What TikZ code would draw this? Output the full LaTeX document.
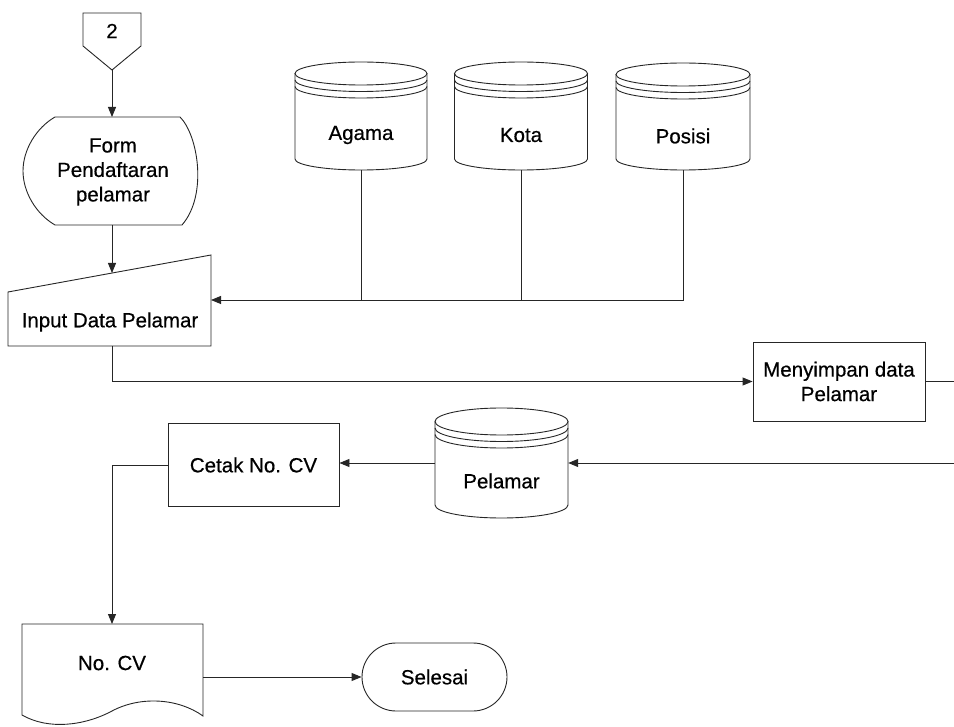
\documentclass[tikz,border=0pt]{standalone}
\usepackage{fontspec}
\setmainfont{Liberation Sans}
\newfontfamily\figfam{Liberation Sans}[FakeBold=0.5]
\usetikzlibrary{arrows.meta,shapes.misc}
\newcommand\figfont{\figfam\fontsize{20.5}{24.5}\selectfont}
% #1 name, #2 cx, #3 ytop, #4 ybot, #5 rx, #6 ry(top), #7 ry(bottom), #8 text
\newcommand\dbcyl[8]{%
  \node[inner sep=0pt, minimum width={2*#5 pt}, minimum height={(#4-#3)*1pt}] (#1) at (#2,{(#3+#4)/2}) {};
  \draw[shapeline] (#2-#5,#3+#6) -- (#2-#5,#4-#7) arc[start angle=180,end angle=0,x radius=#5,y radius=#7] -- (#2+#5,#3+#6);
  \draw[shapeline] (#2,#3+#6) ellipse[x radius=#5,y radius=#6];
  \draw[shapeline] (#2-#5,#3+#6+6.5) arc[start angle=180,end angle=0,x radius=#5,y radius=#6];
  \draw[shapeline] (#2-#5,#3+#6+13) arc[start angle=180,end angle=0,x radius=#5,y radius=#6];
  \node[txt] (#1-label) at (#2,#3+73) {#8};
}
\begin{document}
\begin{tikzpicture}[x=1pt,y=-1pt,
  shapeline/.style={draw=black!85, line width=0.9pt},
  txt/.style={font=\figfont, text=black, inner sep=1pt, align=center},
  conn/.style={draw=black!85, line width=0.9pt},
  arr/.style={conn, -{Triangle[length=10pt,width=8pt]}},
  procbox/.style={shapeline, rectangle, font=\figfont, align=center, inner sep=2pt},
  termbox/.style={shapeline, rounded rectangle, font=\figfont, inner sep=2pt}]
\useasboundingbox (0,0) rectangle (954,727);

% off-page connector
\draw[shapeline] (83,13) -- (141,13) -- (141,46) -- (112,70) -- (83,46) -- cycle;
\node[txt] (conn2) at (112,31) {2};
\coordinate (connTip) at (112,70);

% display: Form Pendaftaran pelamar
\draw[shapeline] (55,117) -- (180,117) .. controls (198,135) and (208,195) .. (182,225)
  -- (55,225) .. controls (36,214) and (23,192) .. (23,171) .. controls (23,150) and (36,128) .. (55,117);
\node[txt] (form) at (113,172) {Form\\Pendaftaran\\pelamar};
\coordinate (formTop) at (112,117);
\coordinate (formBot) at (112,225);

% manual input
\draw[shapeline] (8,292) -- (211,255) -- (211,346) -- (8,346) -- cycle;
\node[txt] (input) at (110,322) {Input Data Pelamar};
\coordinate (inTop) at (112,273);
\coordinate (inRight) at (211,300);
\coordinate (inBot) at (112,346);

% master data stores
\dbcyl{agama}{361}{62}{170}{66}{11.5}{11}{Agama}
\dbcyl{kota}{521}{62}{170}{66.5}{11.5}{11}{Kota}
\dbcyl{posisi}{683}{63}{170}{67}{11.5}{11}{Posisi}

% process
\node[procbox, minimum width=172pt, minimum height=79pt] (simpan) at (839,381.5) {Menyimpan data\\Pelamar};
\coordinate (offA) at (954,381.5);
\coordinate (offB) at (954,463);

% Pelamar store
\dbcyl{pelamar}{501.5}{408}{518}{66.5}{13.5}{13}{Pelamar}

% Cetak
\node[procbox, minimum width=171pt, minimum height=83pt] (cetak) at (253.5,465) {Cetak No. CV};

% document No. CV
\draw[shapeline] (22,624) -- (203,624) -- (203,716) .. controls (178,698) and (140,696) .. (112,711)
  .. controls (84,726) and (48,730) .. (22,715) -- cycle;
\node[txt] (nocv) at (112,663) {No. CV};
\coordinate (nocvTop) at (112,624);
\coordinate (nocvRight) at (203,677);

% terminator
\node[termbox, minimum width=149pt, minimum height=68pt] (selesai) at (434.5,677) {Selesai};

% connectors
\draw[arr] (connTip) -- (formTop);
\draw[arr] (formBot) -- (inTop);
\draw[conn] (agama.south) -- (agama.south |- inRight);
\draw[conn] (kota.south) -- (kota.south |- inRight);
\draw[arr] (posisi.south) |- (inRight);
\draw[arr] (inBot) |- (simpan.west);
\draw[conn] (simpan.east) -- (offA);
\draw[arr] (offB) -- (pelamar.east);
\draw[arr] (pelamar.west) -- (pelamar.west -| cetak.east);
\draw[arr] (cetak.west) -| (nocvTop);
\draw[arr] (nocvRight) -- (selesai.west);
\end{tikzpicture}
\end{document}
